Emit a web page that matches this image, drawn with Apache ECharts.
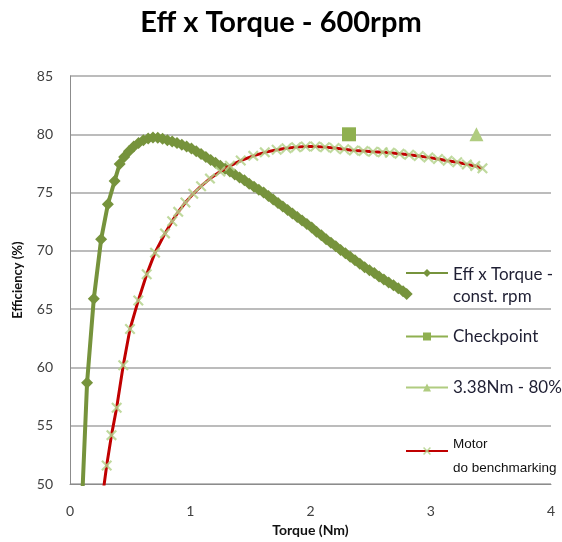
<!DOCTYPE html>
<html>
<head>
<meta charset="utf-8">
<script src="https://cdn.jsdelivr.net/npm/echarts@6/dist/echarts.min.js"></script>
<style>
html,body{margin:0;padding:0;background:#fff;}
#chart{width:562px;height:542px;}
</style>
</head>
<body>
<div id="chart"></div>
<script>
var titleText = 'Eff x Torque - 600rpm';
var xAxisName = 'Torque (Nm)';
var yAxisName = 'Efficiency (%)';
var xTicks = [0, 1, 2, 3, 4];
var yTicks = [50, 55, 60, 65, 70, 75, 80, 85];

var effName = 'Eff x Torque - const. rpm';
var effTorque = [0.094,0.142,0.198,0.259,0.315,0.371,0.413,0.45,0.49,0.53,0.57,0.61,0.65,0.69,0.73,0.77,0.81,0.85,0.89,0.93,0.97,1.01,1.05,1.09,1.13,1.17,1.21,1.25,1.29,1.33,1.37,1.41,1.45,1.49,1.53,1.57,1.61,1.65,1.69,1.73,1.77,1.81,1.85,1.89,1.93,1.97,2.01,2.05,2.09,2.13,2.17,2.21,2.25,2.29,2.33,2.37,2.41,2.45,2.49,2.53,2.57,2.61,2.65,2.69,2.73,2.77,2.80];
var effValues = [47.0,58.7,65.9,71.0,74.0,76.0,77.45,78.05,78.55,78.95,79.25,79.5,79.65,79.72,79.7,79.62,79.5,79.38,79.25,79.1,78.95,78.78,78.55,78.3,78.05,77.8,77.55,77.3,77.05,76.8,76.55,76.3,76.05,75.75,75.5,75.25,75.0,74.7,74.4,74.1,73.8,73.5,73.2,72.9,72.6,72.3,72.0,71.65,71.35,71.0,70.7,70.4,70.08,69.8,69.5,69.2,68.9,68.6,68.35,68.1,67.8,67.55,67.3,67.05,66.8,66.55,66.3];

var checkName = 'Checkpoint';
var checkTorque = [2.32];
var checkValues = [80];

var targetName = '3.38Nm - 80%';
var targetTorque = [3.38];
var targetValues = [80];

var motorName = 'Motor do benchmarking';
var motorTorque = [0.265,0.305,0.345,0.388,0.443,0.499,0.568,0.638,0.707,0.79,0.85,0.90,0.96,1.025,1.09,1.164,1.25,1.33,1.42,1.524,1.62,1.719,1.80,1.88,1.96,2.04,2.12,2.20,2.28,2.36,2.44,2.52,2.60,2.66,2.74,2.82,2.90,2.98,3.06,3.14,3.22,3.30,3.37,3.43];
var motorValues = [48.5,51.6,54.2,56.55,60.2,63.3,65.75,68.0,69.85,71.5,72.55,73.35,74.15,74.9,75.55,76.2,76.8,77.3,77.75,78.15,78.45,78.67,78.8,78.9,78.95,78.95,78.9,78.82,78.72,78.62,78.56,78.5,78.46,78.42,78.33,78.24,78.14,78.02,77.88,77.74,77.6,77.42,77.28,77.08];

function pairs(xs, ys){ return xs.map(function(x,i){ return [x, ys[i]]; }); }

var xMark = 'path://M0,1.4L1.4,0L5,3.6L8.6,0L10,1.4L6.4,5L10,8.6L8.6,10L5,6.4L1.4,10L0,8.6L3.6,5Z';

var chart = echarts.init(document.getElementById('chart'), null, {renderer:'canvas'});
var legendText = {fontFamily:'Lato', fontSize:17, color:'#1f1f33'};
chart.setOption({
  animation:false,
  backgroundColor:'#ffffff',
  title:{text:titleText, left:'center', top:3, textStyle:{fontFamily:'Lato', fontWeight:'bold', fontSize:29, color:'#000'}},
  grid:{left:70, right:11, top:76, bottom:53, containLabel:false},
  xAxis:{type:'value', min:0, max:4, interval:1,
    name:xAxisName, nameLocation:'middle', nameGap:38,
    nameTextStyle:{fontFamily:'Lato', fontWeight:'bold', fontSize:14, color:'#111'},
    axisLine:{lineStyle:{color:'#8c8c8c', width:1}}, axisTick:{show:false},
    axisLabel:{fontFamily:'Lato', fontSize:14, color:'#404040', margin:20, formatter:function(v){return xTicks.indexOf(v)>=0?String(v):'';}},
    splitLine:{show:false}},
  yAxis:{type:'value', min:50, max:85, interval:5,
    name:yAxisName, nameLocation:'middle', nameGap:46, nameRotate:90,
    nameTextStyle:{fontFamily:'Lato', fontWeight:'bold', fontSize:13, color:'#111'},
    axisLine:{show:true, lineStyle:{color:'#8c8c8c', width:1}}, axisTick:{show:false},
    axisLabel:{fontFamily:'Lato', fontSize:14, color:'#404040', margin:17, formatter:function(v){return yTicks.indexOf(v)>=0?String(v):'';}},
    splitLine:{lineStyle:{color:'#a6a6a6', width:1.5}}},
  legend:[
    {data:[effName], left:405, top:250, itemWidth:42, itemHeight:10, padding:0,
      formatter:function(){return '{s| }\n{a|Eff x Torque -}\n{a|const. rpm}';},
      textStyle:Object.assign({rich:{s:{fontSize:2, lineHeight:26}, a:{fontFamily:'Lato', fontSize:17, color:'#1f1f33', lineHeight:22}}}, legendText)},
    {data:[checkName], left:405, top:328, itemWidth:42, itemHeight:10, padding:0, textStyle:legendText},
    {data:[targetName], left:405, top:379, itemWidth:42, itemHeight:10, padding:0, textStyle:legendText},
    {data:[motorName], left:405, top:426, itemWidth:42, itemHeight:10, padding:0,
      formatter:function(){return '{s| }\n{a|Motor}\n{a|do benchmarking}';},
      textStyle:{fontFamily:'Liberation Sans', fontSize:13.5, color:'#111',
        rich:{s:{fontSize:2, lineHeight:10}, a:{fontFamily:'Liberation Sans', fontSize:13.5, color:'#111', lineHeight:24}}}}
  ],
  series:[
    {name:effName, type:'line', data:pairs(effTorque, effValues), symbol:'diamond', symbolSize:12,
      lineStyle:{color:'#76933c', width:4}, itemStyle:{color:'#76933c'}, z:2},
    {name:checkName, type:'line', data:pairs(checkTorque, checkValues), symbol:'rect', symbolSize:14,
      lineStyle:{color:'#8fb050', width:3}, itemStyle:{color:'#8fb050'}, z:3},
    {name:targetName, type:'line', data:pairs(targetTorque, targetValues), symbol:'triangle', symbolSize:14,
      lineStyle:{color:'#b0cc80', width:3}, itemStyle:{color:'#b0cc80'}, z:3},
    {name:motorName, type:'line', data:pairs(motorTorque, motorValues), symbol:xMark, symbolSize:11,
      lineStyle:{color:'#c00000', width:3}, itemStyle:{color:'rgba(180,210,140,0.85)'}, z:4}
  ]
});
</script>
</body>
</html>
